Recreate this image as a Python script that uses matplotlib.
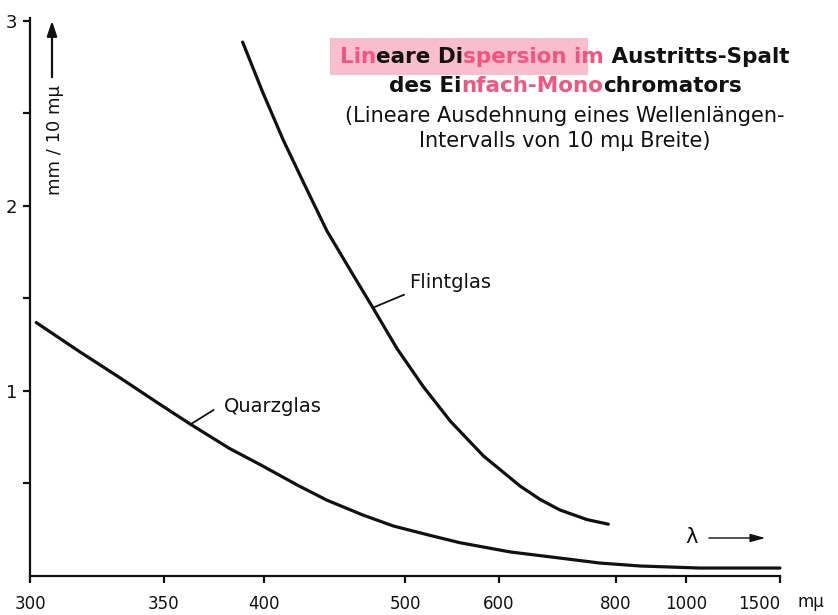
import numpy as np
import matplotlib.pyplot as plt
from matplotlib.patches import Rectangle

# Lineare Dispersion, Werte in mm pro 10 mμ
flint_wl = [388, 399, 411, 424, 439, 456, 473, 493, 517, 544, 581, 629, 658, 690,
            739, 783]
flint_d = [2.886, 2.616, 2.357, 2.119, 1.866, 1.649, 1.450, 1.229, 1.022, 0.836,
           0.649, 0.485, 0.414, 0.357, 0.305, 0.280]

quarz_wl = [302, 317, 332, 348, 362, 381, 398, 420, 439, 465, 490, 523, 554, 615,
            690, 765, 860, 1050, 1500]
quarz_d = [1.37, 1.21, 1.07, 0.93, 0.82, 0.69, 0.60, 0.49, 0.41, 0.33, 0.27, 0.22, 0.18,
           0.13, 0.097, 0.070, 0.054, 0.043, 0.043]

x_ticks = [300, 350, 400, 500, 600, 800, 1000, 1500]
y_ticks = [1, 2, 3]
y_minor = [0.5, 1.5, 2.5]

INK = "#111111"
PINK = "#f2557f"
BAND = "#f6a9bd"

plt.rcParams["font.family"] = ["DejaVu Sans"]

W, H = 838, 615
fig = plt.figure(figsize=(W / 100, H / 100), dpi=100)
ax = fig.add_axes([30 / W, 39 / H, 750 / W, 558 / H])

# Abszisse linear in 1/lambda
def fwd(x):
    with np.errstate(divide="ignore"):
        return -1.0 / np.asarray(x, dtype=float)

def inv(y):
    with np.errstate(divide="ignore"):
        return -1.0 / np.asarray(y, dtype=float)

ax.set_xscale("function", functions=(fwd, inv))
ax.set_xlim(300, 1500)
ax.set_ylim(0, 3.016)

ax.plot(flint_wl, flint_d, color=INK, lw=2.3, solid_capstyle="round",
        solid_joinstyle="round", clip_on=False)
ax.plot(quarz_wl, quarz_d, color=INK, lw=2.3, solid_capstyle="round",
        solid_joinstyle="round", clip_on=False)

# Beschriftung der Kurven mit Hinweisstrich
ax.plot([473, 499], [1.45, 1.52], color=INK, lw=1.3)
ax.text(504, 1.584, "Flintglas", fontsize=14, color=INK, va="center", ha="left")
ax.plot([362, 373], [0.82, 0.897], color=INK, lw=1.3)
ax.text(378, 0.914, "Quarzglas", fontsize=14, color=INK, va="center", ha="left")

for s in ["top", "right"]:
    ax.spines[s].set_visible(False)
for s in ["left", "bottom"]:
    ax.spines[s].set_linewidth(1.6)
    ax.spines[s].set_color(INK)

ax.set_xticks(x_ticks)
ax.set_xticklabels([str(v) for v in x_ticks])
ax.get_xticklabels()[-1].set_horizontalalignment("right")
ax.xaxis.set_minor_locator(plt.NullLocator())
ax.set_yticks(y_ticks)
ax.set_yticks(y_minor, minor=True)
ax.tick_params(axis="x", direction="out", length=5, width=1.6, pad=9,
               labelsize=12, colors=INK)
ax.tick_params(axis="y", which="both", direction="out", length=5, width=1.6,
               pad=4, labelsize=13, colors=INK)

# Achsenbezeichnungen mit Pfeilen
ax.annotate("", xy=(52, H - 18), xytext=(52, H - 80), xycoords="figure pixels",
            arrowprops=dict(arrowstyle="-|>,head_length=0.9,head_width=0.3",
                            color=INK, lw=1.6))
fig.text(55 / W, (H - 140) / H, "mm / 10 mμ", rotation=90, fontsize=13,
         color=INK, ha="center", va="center")

fig.text(692 / W, (H - 537) / H, "λ", fontsize=15, color=INK, ha="center", va="center")
ax.annotate("", xy=(768, H - 538), xytext=(706, H - 538), xycoords="figure pixels",
            arrowprops=dict(arrowstyle="-|>,head_length=0.9,head_width=0.25",
                            color=INK, lw=1.0))
fig.text(797 / W, (H - 602) / H, "mμ", fontsize=12, color=INK, ha="left", va="center")

# Überschrift, teilweise farbig markiert
title_rows = [
    [("Lin", PINK), ("eare Di", INK), ("spersion im", PINK), (" Austritts-Spalt", INK)],
    [("des Ei", INK), ("nfach-Mono", PINK), ("chromators", INK)],
]
row_base = [H - 63, H - 92]
cx = 565

fig.canvas.draw()
renderer = fig.canvas.get_renderer()
band_end = None
for row, yb in zip(title_rows, row_base):
    pieces = [fig.text(0, yb / H, s, color=c, fontsize=15.5, fontweight="bold",
                       va="baseline", ha="left", zorder=3) for s, c in row]
    widths = [p.get_window_extent(renderer).width for p in pieces]
    x = cx - sum(widths) / 2
    x_start = x
    for i, (p, w) in enumerate(zip(pieces, widths)):
        p.set_x(x / W)
        x += w
        if row is title_rows[0] and i == 2:
            band_end = x
    if row is title_rows[0]:
        fig.patches.append(Rectangle(((x_start - 10) / W, (yb - 12) / H),
                                     (band_end - x_start - 6) / W, 37 / H,
                                     transform=fig.transFigure, color=BAND,
                                     alpha=0.75, lw=0, zorder=1))

fig.text(cx / W, (H - 122) / H, "(Lineare Ausdehnung eines Wellenlängen-",
         fontsize=15, color=INK, ha="center", va="baseline")
fig.text(cx / W, (H - 147) / H, "Intervalls von 10 mμ Breite)",
         fontsize=15, color=INK, ha="center", va="baseline")

fig.savefig("out.png", dpi=100)
